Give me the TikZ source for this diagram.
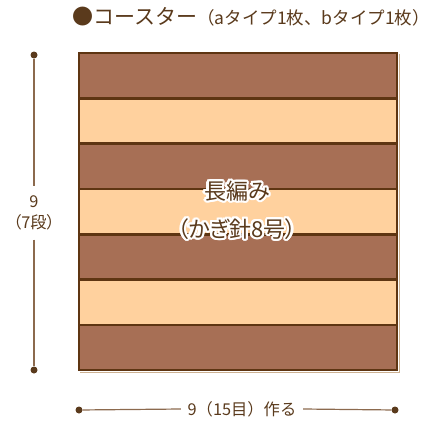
\documentclass[tikz,border=0pt]{standalone}
\usepackage{fontspec}
\setmainfont{Noto Sans CJK JP}
\newfontfamily\paltfont{Noto Sans CJK JP}[RawFeature=+palt]
\definecolor{stripedark}{HTML}{A76F55}
\definecolor{stripelight}{HTML}{FFD19E}
\definecolor{edgebrown}{HTML}{5E3512}
\definecolor{txtbrown}{HTML}{5A3A1C}
\definecolor{dimbrown}{HTML}{8C6A4E}
\definecolor{shadowtan}{HTML}{CDB293}
\tikzset{
  dimdot/.style={circle, fill=txtbrown, inner sep=0pt, minimum size=7pt},
  dimline/.style={draw=dimbrown, line width=1.2pt},
  dimlabel/.style={text=txtbrown, font=\fontsize{16.3}{21}\selectfont, inner sep=0pt, align=center},
  darkband/.style={fill=stripedark},
  lightband/.style={fill=stripelight},
  bandedge/.style={draw=edgebrown, line width=2.6pt},
  halo/.style={text=white, font=\fontsize{22}{26}\selectfont\paltfont, inner sep=0pt},
  centertext/.style={text=txtbrown, font=\fontsize{22}{26}\selectfont\paltfont, inner sep=0pt},
}
\begin{document}
\begin{tikzpicture}[x=1pt, y=-1pt]
\useasboundingbox (0,0) rectangle (422,423);
% stripes
\foreach \i in {0,2,4,6} {
  \fill[darkband] (79,{53+45.3*\i}) rectangle (397,{53+45.3*(\i+1)});
}
\foreach \i in {1,3,5} {
  \fill[lightband] (79,{53+45.3*\i}) rectangle (397,{53+45.3*(\i+1)});
}
\draw[shadowtan, line width=1pt] (399,54) -- (399,372) -- (80,372);
\foreach \i in {1,...,6} {
  \draw[bandedge] (79,{53+45.3*\i}) -- (397,{53+45.3*\i});
}
\node[bandedge, minimum width=318pt, minimum height=317.1pt, inner sep=0pt] (coaster) at (238,211.55) {};
% center text with white halo
\foreach \a in {0,22.5,...,337.5} {
  \node[halo] at ([shift={(\a:2.3)}] 237,191) {長編み};
  \node[halo] at ([shift={(\a:2.3)}] 237,229) {（かぎ針8号）};
}
\node[centertext] (stitch) at (237,191) {長編み};
\node[centertext] (hook) at (237,229) {（かぎ針8号）};
% title
\node[anchor=west, inner sep=0pt, text=txtbrown] (title) at (72,17)
  {\fontsize{21}{24}\selectfont ●コースター\fontsize{17.5}{20}\selectfont（aタイプ1枚、bタイプ1枚）\kern-0.55em};
% vertical dimension
\node[dimdot] (vtop) at (34,55) {};
\node[dimdot] (vbot) at (34,370) {};
\node[dimlabel, minimum height=53pt] (vlab) at (34,213) {9\\\paltfont（7段）};
\draw[dimline] (vtop) -- (vlab.north);
\draw[dimline] (vlab.south) -- (vbot);
% horizontal dimension
\node[dimdot] (hleft) at (79,410) {};
\node[dimdot] (hright) at (395,410) {};
\node[dimlabel, minimum width=122pt] (hlab) at (242,409) {9（15目）作る};
\draw[dimline] (hleft) -- (hlab.west);
\draw[dimline] (hlab.east) -- (hright);
\end{tikzpicture}
\end{document}
